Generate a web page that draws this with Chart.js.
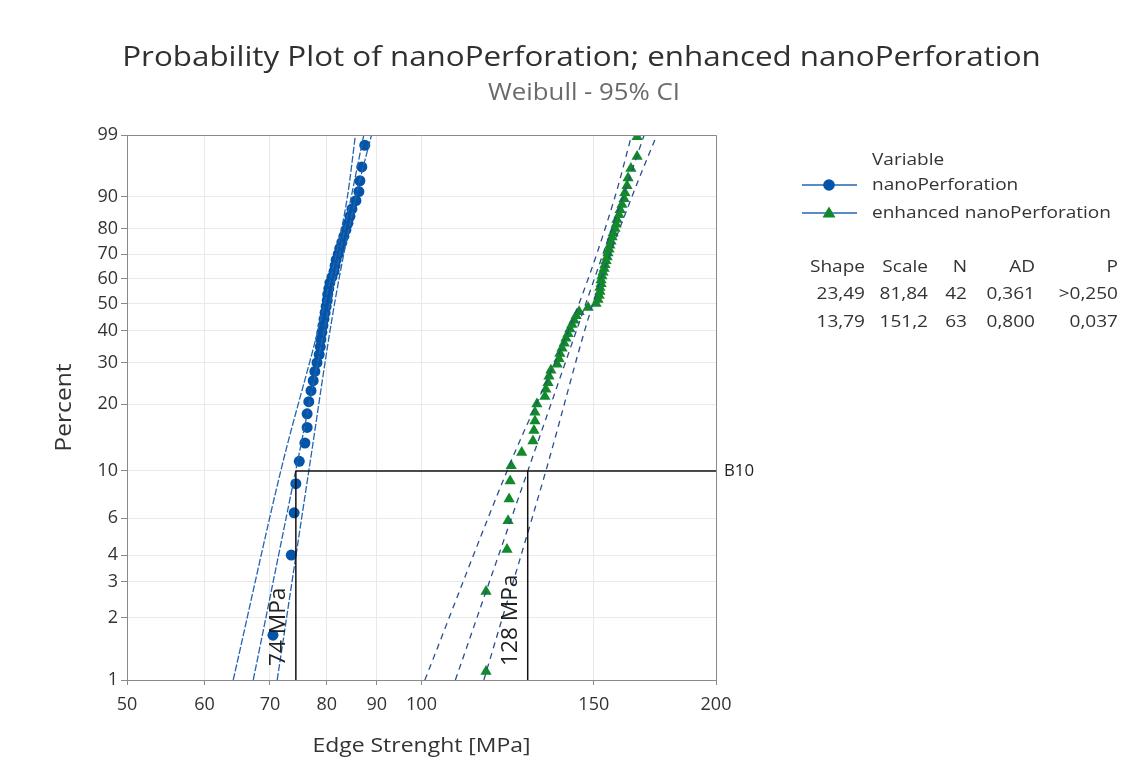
<!DOCTYPE html>
<html><head><meta charset="utf-8">
<script src="https://cdn.jsdelivr.net/npm/chart.js@4.4.0/dist/chart.umd.min.js"></script>
<style>html,body{margin:0;padding:0;background:#fff;}#wrap{width:1147px;height:773px;position:relative;}</style>
</head><body><div id="wrap"><canvas id="c" width="1147" height="773"></canvas></div>
<script>
const titleText = 'Probability Plot of nanoPerforation; enhanced nanoPerforation';
const subtitleText = 'Weibull - 95% CI';
const xTitle = 'Edge Strenght [MPa]';
const yTitle = 'Percent';
const legendTitle = 'Variable';
const seriesNames = ['nanoPerforation', 'enhanced nanoPerforation'];

const nanoStrength = [70.5, 73.6, 74.1, 74.4, 75.0, 76.0, 76.4, 76.4, 76.7, 77.1, 77.5, 77.8, 78.2, 78.6, 78.8, 78.9, 79.1, 79.3, 79.5, 79.7, 79.9, 80.1, 80.2, 80.4, 80.6, 81.0, 81.4, 81.6, 81.8, 82.2, 82.5, 82.9, 83.3, 83.7, 84.1, 84.5, 84.9, 85.7, 86.3, 86.5, 86.9, 87.5];
const nanoPercent = [1.65, 4.01, 6.37, 8.73, 11.08, 13.44, 15.80, 18.16, 20.52, 22.88, 25.24, 27.59, 29.95, 32.31, 34.67, 37.03, 39.39, 41.75, 44.10, 46.46, 48.82, 51.18, 53.54, 55.90, 58.25, 60.61, 62.97, 65.33, 67.69, 70.05, 72.41, 74.76, 77.12, 79.48, 81.84, 84.20, 86.56, 88.92, 91.27, 93.63, 95.99, 98.35];

const enhStrength = [116.4, 116.4, 122.3, 122.6, 122.9, 123.2, 123.5, 126.6, 130.0, 130.3, 130.6, 130.6, 131.2, 133.7, 134.0, 134.7, 135.0, 135.6, 137.6, 138.2, 138.5, 139.2, 139.9, 140.5, 141.2, 141.8, 142.5, 143.2, 143.9, 144.9, 148.0, 150.8, 151.5, 151.9, 152.2, 152.2, 152.6, 152.6, 152.9, 153.3, 153.7, 154.0, 154.4, 154.8, 155.1, 155.5, 155.8, 156.2, 156.6, 157.0, 157.7, 158.1, 158.4, 159.2, 159.6, 160.3, 161.1, 161.4, 162.2, 162.6, 163.7, 166.1, 166.1];
const enhPercent = [1.10, 2.68, 4.26, 5.84, 7.41, 8.99, 10.57, 12.15, 13.72, 15.30, 16.88, 18.45, 20.03, 21.61, 23.19, 24.76, 26.34, 27.92, 29.50, 31.07, 32.65, 34.23, 35.80, 37.38, 38.96, 40.54, 42.11, 43.69, 45.27, 46.85, 48.42, 50.00, 51.58, 53.15, 54.73, 56.31, 57.89, 59.46, 61.04, 62.62, 64.20, 65.77, 67.35, 68.93, 70.50, 72.08, 73.66, 75.24, 76.81, 78.39, 79.97, 81.55, 83.12, 84.70, 86.28, 87.85, 89.43, 91.01, 92.59, 94.16, 95.74, 97.32, 98.90];

const fitPercents = [1, 99];
const nanoFit = [67.3, 87.3];
const enhFit = [108.3, 168.9];
const ciPercents = [1, 10, 50, 90, 99];
const nanoLower = [64.2, 71.8, 79.6, 84.0, 85.6];
const nanoUpper = [71.2, 76.7, 81.5, 85.7, 88.9];
const enhLower = [100.8, 122.3, 144.9, 157.7, 164.0];
const enhUpper = [115.8, 134.0, 149.7, 164.1, 174.0];

const b10Percent = [1, 10];
const b10Values = [74.4, 128.4];
const b10Labels = ['74 MPa', '128 MPa'];
const b10LineEnd = 200;

const yTickPercents = [1, 2, 3, 4, 6, 10, 20, 30, 40, 50, 60, 70, 80, 90, 99];
const xTickValues = [50, 60, 70, 80, 90, 100, 150, 200];

const statHeaders = ['Shape', 'Scale', 'N', 'AD', 'P'];
const statRow1 = ['23,49', '81,84', '42', '0,361', '>0,250'];
const statRow2 = ['13,79', '151,2', '63', '0,800', '0,037'];

const FONT = '"Open Sans", "Noto Sans", sans-serif';
const BLUE = '#0455a7';
const GREEN = '#12892a';
const LINE_BLUE = '#2464b2';
const LINE_DARK = '#28508e';
const TEXT = '#333333';

const W = p => Math.log(-Math.log(1 - p / 100));
const pts = (xs, ps) => xs.map((x, i) => ({ x: x, y: W(ps[i]) }));

function lineDs(data, color, dash, width) {
  return { type: 'line', data: data, borderColor: color, borderWidth: width || 1.3, borderDash: dash,
    pointRadius: 0, fill: false, tension: 0, cubicInterpolationMode: 'monotone', order: 1 };
}

// draw text with horizontal stretch factor sx
function txt(ctx, s, x, y, size, sx, align, color, rot, weight) {
  ctx.save();
  ctx.font = (weight || 400) + ' ' + size + 'px ' + FONT;
  ctx.fillStyle = color || TEXT;
  ctx.textAlign = align || 'left';
  ctx.textBaseline = 'middle';
  ctx.translate(x, y);
  if (rot) ctx.rotate(rot);
  ctx.scale(sx, 1);
  ctx.fillText(s, 0, 0);
  ctx.restore();
}

const overlay = {
  id: 'overlay',
  afterDraw(chart) {
    const ctx = chart.ctx, a = chart.chartArea, xs = chart.scales.x, ys = chart.scales.y;
    ctx.save();
    ctx.strokeStyle = '#8a8a8a'; ctx.lineWidth = 1;
    ctx.beginPath();
    ctx.moveTo(a.left, a.top + 0.5); ctx.lineTo(a.right + 0.5, a.top + 0.5); ctx.lineTo(a.right + 0.5, a.bottom);
    ctx.stroke();
    ctx.restore();
    const S = 1.12;
    // titles
    txt(ctx, titleText, 581.5, 58, 28, S, 'center', '#303030');
    txt(ctx, subtitleText, 584, 93, 23, S, 'center', '#6a6a6a');
    // axis titles
    txt(ctx, xTitle, (a.left + a.right) / 2, 746, 20.5, S, 'center', TEXT);
    txt(ctx, yTitle, 65, (a.top + a.bottom) / 2, 22, S, 'center', TEXT, -Math.PI / 2);
    // B10
    const yb = ys.getPixelForValue(W(b10Percent[1]));
    txt(ctx, 'B10', a.right + 8, yb, 16, 1.05, 'left', '#222');
    // rotated value labels
    b10Values.forEach((v, i) => {
      const x = xs.getPixelForValue(v);
      txt(ctx, b10Labels[i], x - 17, a.bottom - 14, 21, 1.08, 'left', '#222', -Math.PI / 2);
    });
    // legend
    txt(ctx, legendTitle, 872, 160, 17, S, 'left', TEXT);
    const ly = [185, 213];
    ly.forEach((y, i) => {
      ctx.save();
      ctx.strokeStyle = LINE_BLUE; ctx.lineWidth = 1.3;
      ctx.beginPath(); ctx.moveTo(802, y); ctx.lineTo(857, y); ctx.stroke();
      ctx.fillStyle = i === 0 ? BLUE : GREEN;
      ctx.beginPath();
      if (i === 0) { ctx.arc(829, y, 5.8, 0, Math.PI * 2); }
      else { ctx.moveTo(829, y - 6.5); ctx.lineTo(835.5, y + 4.5); ctx.lineTo(822.5, y + 4.5); ctx.closePath(); }
      ctx.fill();
      ctx.restore();
      txt(ctx, seriesNames[i], 872, y, 17, S, 'left', TEXT);
    });
    // stats table
    const colR = [865, 928, 967, 1035, 1118];
    const rows = [statHeaders, statRow1, statRow2];
    const rowY = [267, 294, 322];
    rows.forEach((r, ri) => r.forEach((t, ci) => txt(ctx, t, colR[ci], rowY[ri], 17, S, 'right', TEXT)));
  }
};

const tickFont = { family: FONT, size: 18 };

new Chart(document.getElementById('c').getContext('2d'), {
  type: 'scatter',
  data: {
    datasets: [
      { label: seriesNames[0], data: pts(nanoStrength, nanoPercent), pointStyle: 'circle', pointRadius: 5.5,
        backgroundColor: BLUE, borderColor: BLUE, borderWidth: 0, order: 2 },
      { label: seriesNames[1], data: pts(enhStrength, enhPercent), pointStyle: 'triangle', pointRadius: 6.5,
        backgroundColor: GREEN, borderColor: GREEN, borderWidth: 0, order: 2 },
      lineDs(pts(nanoFit, fitPercents), LINE_BLUE, [7, 2]),
      lineDs(pts(nanoLower, ciPercents), LINE_BLUE, [7, 2]),
      lineDs(pts(nanoUpper, ciPercents), LINE_BLUE, [7, 2]),
      lineDs(pts(enhFit, fitPercents), LINE_DARK, [6, 5]),
      lineDs(pts(enhLower, ciPercents), LINE_DARK, [6, 5]),
      lineDs(pts(enhUpper, ciPercents), LINE_DARK, [6, 5]),
      Object.assign(lineDs([{ x: b10Values[0], y: W(b10Percent[1]) }, { x: b10LineEnd, y: W(b10Percent[1]) }], '#111', [], 1.5), { order: 0 }),
      Object.assign(lineDs(pts([b10Values[0], b10Values[0]], b10Percent), '#111', [], 1.5), { order: 0 }),
      Object.assign(lineDs(pts([b10Values[1], b10Values[1]], b10Percent), '#111', [], 1.5), { order: 0 })
    ]
  },
  options: {
    responsive: false, animation: false, events: [],
    layout: { padding: { left: 0, top: 135, right: 431, bottom: 0 } },
    plugins: { legend: { display: false }, tooltip: { enabled: false }, title: { display: false } },
    scales: {
      x: {
        type: 'logarithmic', min: 50, max: 200,
        afterBuildTicks: s => { s.ticks = xTickValues.map(v => ({ value: v })); },
        afterFit: s => { s.height = 93; },
        ticks: { autoSkip: false, maxRotation: 0, minRotation: 0, padding: 9, color: TEXT, font: tickFont,
          callback: v => String(v) },
        grid: { color: '#e9e9e9', tickColor: '#8a8a8a', tickLength: 5, lineWidth: 1 },
        border: { color: '#8a8a8a', width: 1 }
      },
      y: {
        type: 'linear', min: W(1), max: W(99),
        afterBuildTicks: s => { s.ticks = yTickPercents.map(p => ({ value: W(p) })); },
        afterFit: s => { s.width = 127; },
        ticks: { autoSkip: false, padding: 3, color: TEXT, font: tickFont,
          callback: (v, i) => String(yTickPercents[i]) },
        grid: { color: '#e9e9e9', tickColor: '#8a8a8a', tickLength: 6, lineWidth: 1 },
        border: { color: '#8a8a8a', width: 1 }
      }
    }
  },
  plugins: [overlay]
});
</script></body></html>
